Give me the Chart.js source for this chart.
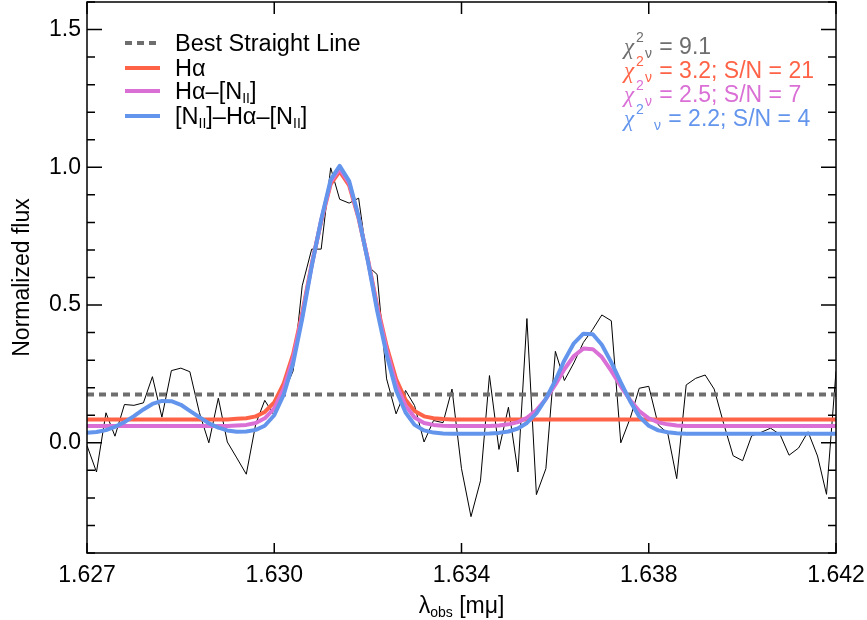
<!DOCTYPE html>
<html lang="en">
<head>
<meta charset="UTF-8">
<title>Spectrum fit</title>
<style>
  html, body { margin: 0; padding: 0; background: #fff; }
  #wrap { width: 867px; height: 620px; }
</style>
</head>
<body>
<div id="wrap"><canvas id="myChart" width="867" height="620"></canvas></div>

<script src="https://cdn.jsdelivr.net/npm/chart.js"></script>
<script>
    // observed wavelength grid (micron)
    const wavelength = [
        1.62700, 1.62719, 1.62738, 1.62756, 1.62775, 1.62794, 1.62813, 1.62831, 1.62850, 1.62869,
        1.62888, 1.62906, 1.62925, 1.62944, 1.62963, 1.62981, 1.63000, 1.63019, 1.63038, 1.63056,
        1.63075, 1.63094, 1.63113, 1.63131, 1.63150, 1.63169, 1.63188, 1.63206, 1.63225, 1.63244,
        1.63263, 1.63281, 1.63300, 1.63319, 1.63338, 1.63356, 1.63375, 1.63394, 1.63413, 1.63431,
        1.63450, 1.63469, 1.63488, 1.63506, 1.63525, 1.63544, 1.63563, 1.63581, 1.63600, 1.63619,
        1.63638, 1.63656, 1.63675, 1.63694, 1.63713, 1.63731, 1.63750, 1.63769, 1.63788, 1.63806,
        1.63825, 1.63844, 1.63863, 1.63881, 1.63900, 1.63919, 1.63938, 1.63956, 1.63975, 1.63994,
        1.64013, 1.64031, 1.64050, 1.64069, 1.64088, 1.64106, 1.64125, 1.64144, 1.64163, 1.64181,
        1.64200
    ];

    const flux = [
        -0.010, -0.106, 0.109, 0.024, 0.139, 0.136, 0.145, 0.240, 0.093, 0.262,
        0.271, 0.258, 0.110, 0.000, 0.162, 0.003, -0.055, -0.114, 0.069, 0.154,
        0.099, 0.180, 0.262, 0.570, 0.703, 0.703, 0.998, 0.884, 0.870, 0.888,
        0.641, 0.611, 0.232, 0.105, 0.190, 0.135, 0.003, 0.081, 0.073, 0.195,
        -0.094, -0.268, -0.138, 0.244, -0.024, 0.129, -0.106, 0.451, -0.188, -0.094,
        0.332, 0.226, 0.290, 0.364, 0.412, 0.464, 0.443, 0.000, 0.090, 0.198,
        0.205, 0.065, 0.035, -0.130, 0.210, 0.234, 0.246, 0.195, 0.070, -0.047,
        -0.065, 0.025, 0.038, 0.053, 0.030, -0.045, -0.019, 0.040, -0.048, -0.187,
        0.260
    ];

    // H-alpha only
    const fitHa = [
        0.085, 0.085, 0.085, 0.085, 0.085, 0.085, 0.085, 0.085, 0.085, 0.085,
        0.085, 0.085, 0.085, 0.085, 0.085, 0.085, 0.087, 0.089, 0.096, 0.112,
        0.147, 0.216, 0.323, 0.471, 0.648, 0.804, 0.939, 0.985, 0.934, 0.814,
        0.661, 0.499, 0.351, 0.231, 0.156, 0.115, 0.096, 0.089, 0.086, 0.085,
        0.085, 0.085, 0.085, 0.085, 0.085, 0.085, 0.085, 0.085, 0.085, 0.085,
        0.085, 0.085, 0.085, 0.085, 0.085, 0.085, 0.085, 0.085, 0.085, 0.085,
        0.085, 0.085, 0.085, 0.085, 0.085, 0.085, 0.085, 0.085, 0.085, 0.085,
        0.085, 0.085, 0.085, 0.085, 0.085, 0.085, 0.085, 0.085, 0.085, 0.085,
        0.085
    ];

    // H-alpha + [NII] 6583
    const fitHaN = [
        0.061, 0.061, 0.061, 0.061, 0.061, 0.061, 0.061, 0.061, 0.061, 0.061,
        0.061, 0.061, 0.061, 0.061, 0.061, 0.061, 0.063, 0.065, 0.072, 0.089,
        0.125, 0.197, 0.308, 0.462, 0.645, 0.807, 0.947, 0.995, 0.942, 0.818,
        0.659, 0.491, 0.337, 0.212, 0.135, 0.092, 0.072, 0.065, 0.062, 0.061,
        0.061, 0.061, 0.061, 0.061, 0.063, 0.067, 0.075, 0.091, 0.118, 0.159,
        0.211, 0.267, 0.315, 0.342, 0.340, 0.311, 0.261, 0.205, 0.154, 0.115,
        0.089, 0.074, 0.067, 0.063, 0.061, 0.061, 0.061, 0.061, 0.061, 0.061,
        0.061, 0.061, 0.061, 0.061, 0.061, 0.061, 0.061, 0.061, 0.061, 0.061,
        0.061
    ];

    // [NII] 6548 + H-alpha + [NII] 6583
    const fitNHaN = [
        0.036, 0.039, 0.046, 0.058, 0.075, 0.097, 0.121, 0.141, 0.152, 0.151,
        0.138, 0.116, 0.093, 0.071, 0.055, 0.045, 0.040, 0.041, 0.047, 0.062,
        0.100, 0.175, 0.290, 0.450, 0.640, 0.810, 0.955, 1.005, 0.950, 0.820,
        0.655, 0.480, 0.320, 0.190, 0.110, 0.065, 0.045, 0.037, 0.034, 0.033,
        0.033, 0.033, 0.033, 0.034, 0.036, 0.041, 0.052, 0.072, 0.107, 0.160,
        0.226, 0.299, 0.361, 0.396, 0.394, 0.356, 0.292, 0.219, 0.150, 0.095,
        0.062, 0.045, 0.038, 0.035, 0.033, 0.033, 0.033, 0.033, 0.033, 0.033,
        0.033, 0.033, 0.033, 0.033, 0.033, 0.033, 0.033, 0.033, 0.033, 0.033,
        0.033
    ];

    const straightX = [1.627, 1.642];
    const straightY = [0.175, 0.175];

    const xTicks = [1.627, 1.63075, 1.6345, 1.63825, 1.642];
    const xTickLabels = ['1.627', '1.630', '1.634', '1.638', '1.642'];
    const yTicks = [-0.4, -0.3, -0.2, -0.1, 0.0, 0.1, 0.2, 0.3, 0.4, 0.5, 0.6, 0.7,
        0.8, 0.9, 1.0, 1.1, 1.2, 1.3, 1.4, 1.5, 1.6];
    const yMajor = [0.0, 0.5, 1.0, 1.5];
    const yMajorLabels = ['0.0', '0.5', '1.0', '1.5'];

    const legendNames = ['Best Straight Line', 'Hα', 'Hα–[N', '[N'];
    const chiValues = ['9.1', '3.2', '2.5', '2.2'];
    const snValues = ['', '21', '7', '4'];

    const GRAY = '#6e6e6e', RED = '#ff6347', ORCHID = '#da70d6', BLUE = '#6495ed';
    const FONT = "'Liberation Sans', Arial, Helvetica, sans-serif";
    const SERIF = "'Liberation Serif', 'DejaVu Serif', serif";

    const pts = (xs, ys) => ys.map((v, i) => ({ x: xs[i], y: v }));
    const majorIndex = v => yMajor.findIndex(m => Math.abs(m - v) < 1e-6);

    function partFont(k, size) {
        if (k === 'sup' || k === 'sub') return Math.round(size * 0.6) + 'px ' + FONT;
        if (k === 'chi') return 'italic ' + Math.round(size) + 'px ' + SERIF;
        return size + 'px ' + FONT;
    }

    // draws a run of [text, kind, extra gap] parts
    function richText(ctx, x, y, parts, color, size) {
        ctx.fillStyle = color;
        ctx.textBaseline = 'alphabetic';
        ctx.textAlign = 'left';
        for (const [t, k, gap] of parts) {
            x += gap || 0;
            let dy = 0;
            if (k === 'sup') dy = -size * 0.52;
            if (k === 'sub') dy = size * 0.17;
            ctx.font = partFont(k, size);
            ctx.fillText(t, x, y + dy);
            x += ctx.measureText(t).width;
        }
        return x;
    }

    function richWidth(ctx, parts, size) {
        let w = 0;
        for (const [t, k, gap] of parts) {
            ctx.font = partFont(k, size);
            w += ctx.measureText(t).width + (gap || 0);
        }
        return w;
    }

    const decor = {
        id: 'decor',
        afterDraw(chart) {
            const { ctx, chartArea: a, scales: { x, y } } = chart;
            ctx.save();

            // frame + inward ticks on all four sides
            ctx.strokeStyle = '#000';
            ctx.lineWidth = 1.5;
            ctx.strokeRect(a.left, a.top, a.right - a.left, a.bottom - a.top);
            ctx.beginPath();
            xTicks.forEach(v => {
                const p = x.getPixelForValue(v);
                ctx.moveTo(p, a.bottom); ctx.lineTo(p, a.bottom - 10);
                ctx.moveTo(p, a.top); ctx.lineTo(p, a.top + 12);
            });
            yTicks.forEach(v => {
                const p = y.getPixelForValue(v);
                const len = majorIndex(v) >= 0 ? 15 : 8;
                ctx.moveTo(a.left, p); ctx.lineTo(a.left + len, p);
                ctx.moveTo(a.right, p); ctx.lineTo(a.right - len, p);
            });
            ctx.stroke();

            // axis titles
            const xt = [['λ', 'n'], ['obs', 'sub'], [' [mμ]', 'n']];
            const w = richWidth(ctx, xt, 23);
            richText(ctx, (a.left + a.right) / 2 - w / 2, 613, xt, '#000', 23);
            ctx.save();
            ctx.translate(29, (a.top + a.bottom) / 2);
            ctx.rotate(-Math.PI / 2);
            ctx.font = '23px ' + FONT;
            ctx.fillStyle = '#000';
            ctx.textAlign = 'center';
            ctx.textBaseline = 'alphabetic';
            ctx.fillText('Normalized flux', 0, 0);
            ctx.restore();

            // legend
            const rows = [
                { c: GRAY, dash: [7, 5], parts: [[legendNames[0], 'n']] },
                { c: RED, parts: [[legendNames[1], 'n']] },
                { c: ORCHID, parts: [[legendNames[2], 'n'], ['II', 'sub'], [']', 'n']] },
                { c: BLUE, parts: [[legendNames[3], 'n'], ['II', 'sub'], [']–Hα–[N', 'n'], ['II', 'sub'], [']', 'n']] }
            ];
            const rowY = [43, 68, 91, 116];
            rows.forEach((r, i) => {
                ctx.beginPath();
                ctx.setLineDash(r.dash || []);
                ctx.lineWidth = 4;
                ctx.strokeStyle = r.c;
                ctx.moveTo(125, rowY[i]); ctx.lineTo(160, rowY[i]);
                ctx.stroke();
                ctx.setLineDash([]);
                richText(ctx, 175, rowY[i] + 8, r.parts, '#000', 23.5);
            });

            // reduced chi-square and S/N labels
            const cols = [GRAY, RED, ORCHID, BLUE];
            const baseY = [54, 78, 102, 126];
            cols.forEach((c, i) => {
                const tail = ' = ' + chiValues[i] + (snValues[i] ? '; S/N = ' + snValues[i] : '');
                const nuGap = i === 3 ? 10 : 1;
                richText(ctx, 624, baseY[i], [['χ', 'chi'], ['2', 'sup', 2], ['ν', 'sub', nuGap], [tail, 'n', 1]], c, 23);
            });

            ctx.restore();
        }
    };

    const ctx = document.getElementById('myChart');
    const myChart = new Chart(ctx, {
        type: 'line',
        data: {
            datasets: [
                { label: 'flux', data: pts(wavelength, flux), borderColor: '#000', borderWidth: 1, order: 5 },
                { label: 'Best Straight Line', data: pts(straightX, straightY), borderColor: GRAY, borderWidth: 4, borderDash: [7, 5], order: 4 },
                { label: 'Hα', data: pts(wavelength, fitHa), borderColor: RED, borderWidth: 4, order: 3 },
                { label: 'Hα–[NII]', data: pts(wavelength, fitHaN), borderColor: ORCHID, borderWidth: 4, order: 2 },
                { label: '[NII]–Hα–[NII]', data: pts(wavelength, fitNHaN), borderColor: BLUE, borderWidth: 4, order: 1 }
            ]
        },
        options: {
            responsive: false,
            animation: false,
            devicePixelRatio: 1,
            elements: {
                point: { radius: 0 },
                line: { tension: 0, fill: false, borderJoinStyle: 'round' }
            },
            layout: { padding: { left: 0, right: 31, top: 2, bottom: 0 } },
            plugins: {
                legend: { display: false },
                tooltip: { enabled: false }
            },
            scales: {
                x: {
                    type: 'linear',
                    min: 1.627,
                    max: 1.642,
                    grid: { display: false, drawTicks: false },
                    border: { display: false },
                    afterBuildTicks: s => { s.ticks = xTicks.map(v => ({ value: v })); },
                    afterFit: s => { s.height = 67; s.paddingLeft = 0; s.paddingRight = 0; },
                    ticks: {
                        autoSkip: false,
                        maxRotation: 0,
                        padding: 9,
                        color: '#000',
                        font: { family: FONT, size: 23 },
                        callback: (v, i) => xTickLabels[i]
                    }
                },
                y: {
                    min: -0.4,
                    max: 1.6,
                    grid: { display: false, drawTicks: false },
                    border: { display: false },
                    afterBuildTicks: s => { s.ticks = yTicks.map(v => ({ value: v })); },
                    afterFit: s => { s.width = 87; s.paddingTop = 0; s.paddingBottom = 0; },
                    ticks: {
                        autoSkip: false,
                        padding: 6,
                        color: '#000',
                        font: { family: FONT, size: 23 },
                        callback: v => { const k = majorIndex(v); return k >= 0 ? yMajorLabels[k] : ''; }
                    }
                }
            }
        },
        plugins: [decor]
    });
</script>
</body>
</html>
